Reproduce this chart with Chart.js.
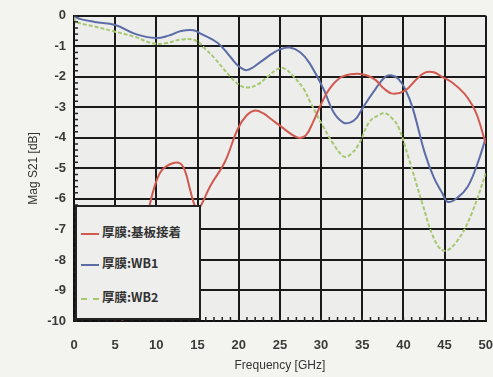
<!DOCTYPE html>
<html>
<head>
<meta charset="utf-8">
<script src="https://cdn.jsdelivr.net/npm/chart.js@4.4.1/dist/chart.umd.min.js"></script>
<style>
  html, body { margin: 0; padding: 0; background: #f3f3ef; overflow: hidden; }
  #wrap { position: relative; width: 510px; height: 377px; }
  #legendBox {
    position: absolute; left: 75px; top: 205px; width: 122px; height: 111px;
    background: #eeeeec; border: 2px solid #222;
    font-family: "Noto Sans CJK JP", "Liberation Sans", sans-serif;
    font-size: 12.5px; font-weight: bold; color: #333;
  }
  .item { position: absolute; left: 4px; height: 16px; line-height: 16px; white-space: nowrap; }
  .swatch { display: inline-block; width: 18px; height: 0; vertical-align: middle; margin-right: 3px; }
</style>
</head>
<body>
<div id="wrap">
  <canvas id="chart" width="510" height="377"></canvas>
  <div id="legendBox">
    <div class="item" style="top:17px"><span class="swatch" style="border-top:2px solid #d05a50"></span>厚膜:基板接着</div>
    <div class="item" style="top:48px"><span class="swatch" style="border-top:2px solid #5b6ca6"></span>厚膜:WB1</div>
    <div class="item" style="top:82px"><span class="swatch" style="border-top:2px dashed #a6c872"></span>厚膜:WB2</div>
  </div>
</div>
<script>
const xTicks = [0, 5, 10, 15, 20, 25, 30, 35, 40, 45, 50];
const yTicks = [0, -1, -2, -3, -4, -5, -6, -7, -8, -9, -10];

// 厚膜:基板接着
const freqRed = [5.9, 7, 8, 9, 9.9, 10.7, 11.9, 12.9, 13.5, 14.1, 14.7, 15.1, 16.6, 18.3, 19.9, 21, 22, 23, 24, 25, 26.5, 27.4, 28.2, 29, 30, 31, 32.5, 34.3, 35.5, 36.6, 37.7, 38.7, 40.2, 41.5, 42.6, 43.7, 44.7, 46, 47.4, 48.3, 49, 50];
const magRed = [-10, -8.7, -7.5, -6.4, -5.5, -5.05, -4.84, -4.84, -5.1, -5.7, -6.25, -6.35, -5.55, -4.8, -3.7, -3.25, -3.1, -3.2, -3.4, -3.6, -3.9, -4.0, -3.9, -3.5, -2.9, -2.4, -2.0, -1.9, -1.95, -2.1, -2.4, -2.55, -2.45, -2.1, -1.86, -1.85, -2.0, -2.2, -2.55, -2.9, -3.3, -4.2];

// 厚膜:WB1
const freqWb1 = [0, 0.7, 2.5, 5, 7.5, 9.9, 11.5, 13, 14.5, 15.5, 17.5, 19, 20, 21, 22.7, 24, 25, 26.2, 27.5, 28.6, 30.3, 31.5, 32.7, 33.5, 34.3, 35.1, 36.6, 37.8, 38.5, 39.4, 40.2, 41.1, 42.6, 43.7, 44.7, 45.4, 46.6, 47.8, 49, 50];
const magWb1 = [0, -0.1, -0.2, -0.3, -0.6, -0.73, -0.65, -0.5, -0.47, -0.6, -0.9, -1.35, -1.65, -1.78, -1.5, -1.25, -1.1, -1.04, -1.2, -1.55, -2.4, -3.15, -3.5, -3.5, -3.35, -3.0, -2.4, -2.0, -1.95, -2.07, -2.4, -3.0, -4.5, -5.3, -5.8, -6.1, -5.95, -5.6, -4.84, -4.0];

// 厚膜:WB2
const freqWb2 = [0, 0.3, 2.5, 4.7, 7.5, 9.5, 11.1, 13, 14.7, 16, 17.1, 19, 20, 21, 22.3, 23.5, 24.7, 25.5, 26.7, 27.9, 28.6, 30.3, 31.5, 32.7, 33.4, 34.6, 35.8, 37, 37.8, 38.6, 39.4, 40.6, 42.3, 43.8, 45, 46.6, 48.3, 50];
const magWb2 = [-0.05, -0.2, -0.35, -0.5, -0.7, -0.9, -0.9, -0.78, -0.8, -1.1, -1.4, -2.0, -2.25, -2.35, -2.25, -2.0, -1.75, -1.72, -2.0, -2.4, -2.78, -3.65, -4.2, -4.6, -4.58, -4.2, -3.5, -3.25, -3.2, -3.35, -3.65, -4.63, -6.15, -7.35, -7.7, -7.35, -6.47, -5.16];

const toPoints = (xs, ys) => xs.map((x, i) => ({ x, y: ys[i] }));

// small inner tick marks along left and bottom edges
const minorTicks = {
    id: 'minorTicks',
    afterDraw(chart) {
        const { ctx, chartArea, scales } = chart;
        ctx.save();
        ctx.strokeStyle = '#222';
        ctx.lineWidth = 1.5;
        for (let v = 0; v >= -10; v -= 0.2) {
            const py = scales.y.getPixelForValue(v);
            ctx.beginPath();
            ctx.moveTo(chartArea.left, py);
            ctx.lineTo(chartArea.left + 4, py);
            ctx.stroke();
        }
        for (let v = 0; v <= 50; v += 1) {
            const px = scales.x.getPixelForValue(v);
            ctx.beginPath();
            ctx.moveTo(px, chartArea.bottom);
            ctx.lineTo(px, chartArea.bottom - 4);
            ctx.stroke();
        }
        ctx.restore();
    }
};

const plotBg = {
    id: 'plotBg',
    beforeDraw(chart) {
        const { ctx, chartArea } = chart;
        ctx.save();
        ctx.fillStyle = '#ededeb';
        ctx.fillRect(chartArea.left, chartArea.top, chartArea.right - chartArea.left, chartArea.bottom - chartArea.top);
        ctx.restore();
    }
};

const tickFont = { family: '"Liberation Sans", Arial, sans-serif', size: 13, weight: 'bold' };
const titleFont = { family: '"Liberation Sans", Arial, sans-serif', size: 12 };

new Chart(document.getElementById('chart'), {
    type: 'line',
    data: {
        datasets: [
            { label: '厚膜:基板接着', data: toPoints(freqRed, magRed), borderColor: '#d05a50', borderWidth: 2, pointRadius: 0, tension: 0.4 },
            { label: '厚膜:WB1', data: toPoints(freqWb1, magWb1), borderColor: '#5b6ca6', borderWidth: 2, pointRadius: 0, tension: 0.4 },
            { label: '厚膜:WB2', data: toPoints(freqWb2, magWb2), borderColor: '#a6c872', borderWidth: 2, borderDash: [4, 2], pointRadius: 0, tension: 0.4 }
        ]
    },
    options: {
        responsive: false,
        animation: false,
        layout: { padding: { top: 15, right: 16, left: 0, bottom: 0 } },
        plugins: { legend: { display: false }, tooltip: { enabled: false } },
        scales: {
            x: {
                type: 'linear', min: 0, max: 50,
                afterBuildTicks: (s) => { s.ticks = xTicks.map(v => ({ value: v })); },
                afterFit: (s) => { s.height = 56; },
                grid: { color: '#1a1a1a', lineWidth: 2, drawTicks: false },
                border: { color: '#111', width: 2 },
                ticks: { color: '#3a3a3a', font: tickFont, padding: 17, maxRotation: 0 },
                title: { display: true, text: 'Frequency [GHz]', color: '#333', font: titleFont, padding: { top: 4 } }
            },
            y: {
                type: 'linear', min: -10, max: 0,
                afterBuildTicks: (s) => { s.ticks = yTicks.map(v => ({ value: v })); },
                afterFit: (s) => { s.width = 74; },
                grid: { color: '#1a1a1a', lineWidth: 2, drawTicks: false },
                border: { color: '#111', width: 2 },
                ticks: { color: '#3a3a3a', font: tickFont, padding: 8 },
                title: { display: true, text: 'Mag S21 [dB]', color: '#333', font: titleFont, padding: { top: 26, bottom: 0 } }
            }
        }
    },
    plugins: [plotBg, minorTicks]
});
</script>
</body>
</html>
